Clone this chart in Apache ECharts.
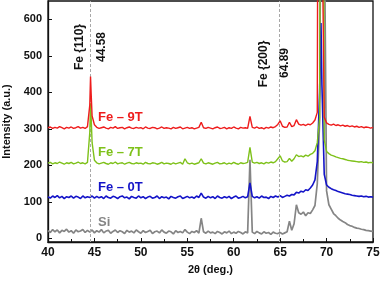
<!DOCTYPE html>
<html><head><meta charset="utf-8">
<script src="https://cdn.jsdelivr.net/npm/echarts@6/dist/echarts.min.js"></script>
<style>html,body{margin:0;padding:0;background:#fff}#c{width:380px;height:281px}</style>
</head><body><div id="c"></div>
<script>
// Shared 2θ grid: 40.00 .. 75.00 step 0.25 (141 points)
const gridStart = 40, gridStep = 0.25;
const xTicks = [40, 45, 50, 55, 60, 65, 70, 75];
const yTicks = [0, 100, 200, 300, 400, 500, 600];
const refLines = [44.58, 64.89];
const seriesNames = ['Si', 'Fe – 0T', 'Fe – 7T', 'Fe – 9T'];

const redY = [303,305,301,304,302,306,303,300,304,302,305,301,303,306,302,304,301,306,
 365,335,311,
 304,301,303,305,302,300,304,302,306,301,303,304,300,303,305,302,301,304,302,303,
 300,305,302,301,304,303,300,302,305,301,303,302,300,304,301,303,305,300,302,304,
 301,303,300,302,304,
 318,
 303,301,304,302,300,303,305,301,302,304,300,303,301,305,302,300,304,302,303,301,
 334,
 304,302,305,301,303,300,304,302,305,303,306,
 312,322,307,304,305,318,306,309,325,313,
 310,312,309,313,311,316,
 324,345,3000,900,332,316,
 312,310,313,309,311,308,310,307,309,306,308,305,307,304,306,303,305,304,302,304];
const redPeaks = [[44.58,443],[44.65,395],[69.4,3000]];

const greenY = [206,208,204,207,205,209,206,203,207,205,208,204,206,209,205,207,204,208,
 290,262,214,
 207,204,206,208,205,203,207,205,209,204,206,207,203,206,208,205,204,207,205,206,
 203,208,205,204,207,206,203,205,208,204,206,205,203,207,204,206,208,203,218,207,
 204,206,203,205,207,
 218,
 206,204,207,205,203,206,208,204,205,207,203,206,204,208,205,203,207,205,206,208,
 249,
 209,206,208,205,207,204,208,206,209,207,210,
 218,226,212,209,210,219,211,218,229,224,
 226,223,228,225,230,233,
 240,262,330,3000,270,238,
 232,228,226,223,221,219,218,216,214,213,212,211,210,209,210,208,209,207,208,207];
const greenPeaks = [[44.58,370],[44.65,330],[69.6,3000]];

const blueY = [114,110,116,112,117,111,115,109,114,112,116,110,115,113,109,116,111,114,
 112,116,110,
 115,111,114,109,116,112,110,115,113,109,114,116,111,113,108,115,112,110,116,111,
 114,109,113,115,110,112,116,109,114,111,113,108,115,112,110,114,116,109,112,115,
 111,113,110,116,112,
 124,
 113,110,115,111,114,109,116,112,110,114,111,115,109,113,116,110,112,115,111,114,
 152,
 115,111,114,110,116,112,113,109,115,112,116,
 113,117,112,115,118,116,120,119,126,124,
 129,127,133,131,138,146,
 160,210,400,420,175,146,
 140,136,133,131,128,126,124,122,121,120,118,117,116,115,116,114,115,113,114,113];
const bluePeaks = [[69.4,590]];

const greyY = [21,16,24,18,23,15,22,19,25,17,21,14,23,18,20,24,16,22,
 17,23,15,
 21,17,24,15,20,22,14,19,23,16,21,18,13,22,17,20,15,23,18,14,
 21,16,19,22,13,18,20,15,23,17,14,20,18,12,21,16,19,15,24,17,
 13,19,16,21,14,
 55,
 18,14,20,15,17,13,19,16,12,18,15,20,13,17,14,19,16,12,18,15,
 215,
 17,13,19,15,12,18,14,16,11,17,14,
 13,16,12,15,18,47,22,40,92,70,
 66,72,62,70,68,78,
 90,150,320,1500,900,130,
 92,80,68,62,55,50,46,43,38,35,33,30,28,27,25,24,22,21,20,19];
const greyPeaks = [[69.6,3000]];

function build(ys, extra) {
  const pts = ys.map((v, i) => [gridStart + i * gridStep, v]);
  return pts.concat(extra).sort((a, b) => a[0] - b[0]);
}

const colors = ['#858585', '#1414c8', '#7ec11a', '#ee1c1c'];
const widths = [1.7, 1.6, 1.4, 1.4];
const datasets = [build(greyY, greyPeaks), build(blueY, bluePeaks), build(greenY, greenPeaks), build(redY, redPeaks)];

const font = 'Liberation Sans, Arial, sans-serif';
const chart = echarts.init(document.getElementById('c'), null, {renderer: 'canvas'});
const series = datasets.map((d, k) => ({
  name: seriesNames[k], type: 'line', data: d, showSymbol: false, symbol: 'none',
  lineStyle: {color: colors[k], width: widths[k]}, clip: true, animation: false, z: 3 + k
}));
series[0].markLine = {
  silent: true, symbol: 'none', label: {show: false}, animation: false,
  lineStyle: {color: '#a8a8a8', type: [3, 2], width: 1},
  data: refLines.map(v => ({xAxis: v}))
};

chart.setOption({
  animation: false,
  backgroundColor: '#fff',
  grid: {left: 48, right: 7, top: 1, bottom: 39, show: true, borderColor: '#111', borderWidth: 1.3,
    outerBoundsMode: 'none', containLabel: false},
  xAxis: {
    type: 'value', min: 40, max: 75, interval: 5,
    name: '2θ (deg.)', nameLocation: 'middle', nameGap: 22,
    nameTextStyle: {fontFamily: font, fontWeight: 'bold', fontSize: 11, color: '#111'},
    axisLine: {show: true, onZero: false, lineStyle: {color: '#111', width: 1.3}},
    axisTick: {show: true, inside: true, length: 4, lineStyle: {color: '#111'}},
    minorTick: {show: true, splitNumber: 2, length: 3, lineStyle: {color: '#111'}},
    axisLabel: {fontFamily: font, fontWeight: 'bold', fontSize: 12, color: '#111', margin: 5,
      customValues: xTicks},
    splitLine: {show: false}, minorSplitLine: {show: false}
  },
  yAxis: {
    type: 'value', min: -10, max: 650,
    name: 'Intensity (a.u.)', nameLocation: 'middle', nameGap: 32,
    nameTextStyle: {fontFamily: font, fontWeight: 'bold', fontSize: 11, color: '#111'},
    axisLine: {show: true, onZero: false, lineStyle: {color: '#111', width: 1.3}},
    axisTick: {show: true, inside: true, length: 4, customValues: yTicks, lineStyle: {color: '#111'}},
    axisLabel: {fontFamily: font, fontWeight: 'bold', fontSize: 11, color: '#111', margin: 6,
      customValues: yTicks},
    splitLine: {show: false}
  },
  series: series,
  graphic: [
    {type: 'text', x: 80, y: 47, rotation: Math.PI / 2, style: {text: 'Fe {110}', fill: '#111', font: 'bold 12px ' + font, align: 'center', verticalAlign: 'middle'}},
    {type: 'text', x: 102, y: 47, rotation: Math.PI / 2, style: {text: '44.58', fill: '#111', font: 'bold 12px ' + font, align: 'center', verticalAlign: 'middle'}},
    {type: 'text', x: 264, y: 64, rotation: Math.PI / 2, style: {text: 'Fe {200}', fill: '#111', font: 'bold 12px ' + font, align: 'center', verticalAlign: 'middle'}},
    {type: 'text', x: 285, y: 63, rotation: Math.PI / 2, style: {text: '64.89', fill: '#111', font: 'bold 12px ' + font, align: 'center', verticalAlign: 'middle'}},
    {type: 'text', x: 98, y: 117, style: {text: seriesNames[3], fill: colors[3], font: 'bold 13px ' + font, verticalAlign: 'middle'}},
    {type: 'text', x: 98, y: 152, style: {text: seriesNames[2], fill: colors[2], font: 'bold 13px ' + font, verticalAlign: 'middle'}},
    {type: 'text', x: 98, y: 187, style: {text: seriesNames[1], fill: colors[1], font: 'bold 13px ' + font, verticalAlign: 'middle'}},
    {type: 'text', x: 98, y: 222, style: {text: seriesNames[0], fill: colors[0], font: 'bold 13px ' + font, verticalAlign: 'middle'}}
  ]
});
</script></body></html>
